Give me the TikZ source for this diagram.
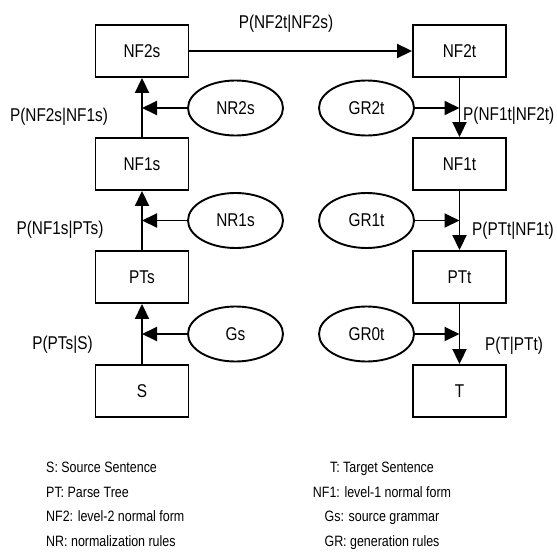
\documentclass[tikz,border=0pt]{standalone}
\usepackage{fontspec}
\setmainfont{Liberation Sans}[FakeStretch=0.83]
\usetikzlibrary{arrows.meta,shapes.geometric}
\begin{document}
\begin{tikzpicture}[x=1pt,y=-1pt,
  big/.style={font=\fontsize{18.5}{22}\selectfont},
  box/.style={big,draw,line width=1.9pt,minimum width=93pt,minimum height=52pt,inner sep=0pt},
  ell/.style={big,draw,ellipse,line width=1.9pt,minimum width=95pt,minimum height=55pt,inner sep=0pt},
  lab/.style={big,inner sep=0pt},
  arr/.style={line width=1.9pt,-{Triangle[length=15pt,width=14pt]}},
  leg/.style={inner sep=0pt,font=\fontsize{15}{18}\selectfont}]
\useasboundingbox (0,0) rectangle (557,552);
% source column
\node[box] (NF2s) at (142,51) {NF2s};
\node[box] (NF1s) at (142,164) {NF1s};
\node[box] (PTs) at (142,277) {PTs};
\node[box] (S) at (142,391) {S};
% target column
\node[box] (NF2t) at (459.5,51) {NF2t};
\node[box] (NF1t) at (459.5,164) {NF1t};
\node[box] (PTt) at (459.5,277) {PTt};
\node[box] (T) at (459.5,391) {T};
% ellipses
\node[ell] (NR2s) at (235.5,108) {NR2s};
\node[ell] (NR1s) at (235.5,220.5) {NR1s};
\node[ell] (Gs) at (235.5,334) {Gs};
\node[ell] (GR2t) at (366.5,108) {GR2t};
\node[ell] (GR1t) at (366.5,220.5) {GR1t};
\node[ell] (GR0t) at (366.5,334) {GR0t};
% junctions
\coordinate (j2s) at (NR2s.west -| NF2s.south);
\coordinate (j1s) at (NR1s.west -| NF1s.south);
\coordinate (j0s) at (Gs.west -| PTs.south);
\coordinate (j2t) at (GR2t.east -| NF2t.south);
\coordinate (j1t) at (GR1t.east -| NF1t.south);
\coordinate (j0t) at (GR0t.east -| PTt.south);
% connectors
\draw[arr] (NF2s.east) -- (NF2t.west);
\draw[arr] (NF1s.north) -- (NF2s.south);
\draw[arr] (PTs.north) -- (NF1s.south);
\draw[arr] (S.north) -- (PTs.south);
\draw[arr] (NF2t.south) -- (NF1t.north);
\draw[arr] (NF1t.south) -- (PTt.north);
\draw[arr] (PTt.south) -- (T.north);
\draw[arr] (NR2s.west) -- (j2s);
\draw[arr] (NR1s.west) -- (j1s);
\draw[arr] (Gs.west) -- (j0s);
\draw[arr] (GR2t.east) -- (j2t);
\draw[arr] (GR1t.east) -- (j1t);
\draw[arr] (GR0t.east) -- (j0t);
% labels
\node[lab,anchor=base] (l0) at (286,28) {P(NF2t|NF2s)};
\node[lab,anchor=base] (l1) at (59,121) {P(NF2s|NF1s)};
\node[lab,anchor=base] (l2) at (60,234) {P(NF1s|PTs)};
\node[lab,anchor=base] (l3) at (62.5,349) {P(PTs|S)};
\node[lab,anchor=base west] (l4) at (463,120) {P(NF1t|NF2t)};
\node[lab,anchor=base west] (l5) at (472,235) {P(PTt|NF1t)};
\node[lab,anchor=base west] (l6) at (485,350) {P(T|PTt)};
% legend
\node[leg,anchor=base west] (g1) at (46,472.5) {S: Source Sentence};
\node[leg,anchor=base west] (g2) at (46,497) {PT: Parse Tree};
\node[leg,anchor=base west] (g3) at (46,521.5) {NF2: level-2 normal form};
\node[leg,anchor=base west] (g4) at (46,546) {NR: normalization rules};
\node[leg,anchor=base] (h1) at (382,472.5) {T: Target Sentence};
\node[leg,anchor=base] (h2) at (382,497) {NF1: level-1 normal form};
\node[leg,anchor=base] (h3) at (382,521.5) {Gs: source grammar};
\node[leg,anchor=base] (h4) at (382,546) {GR: generation rules};
\end{tikzpicture}
\end{document}
